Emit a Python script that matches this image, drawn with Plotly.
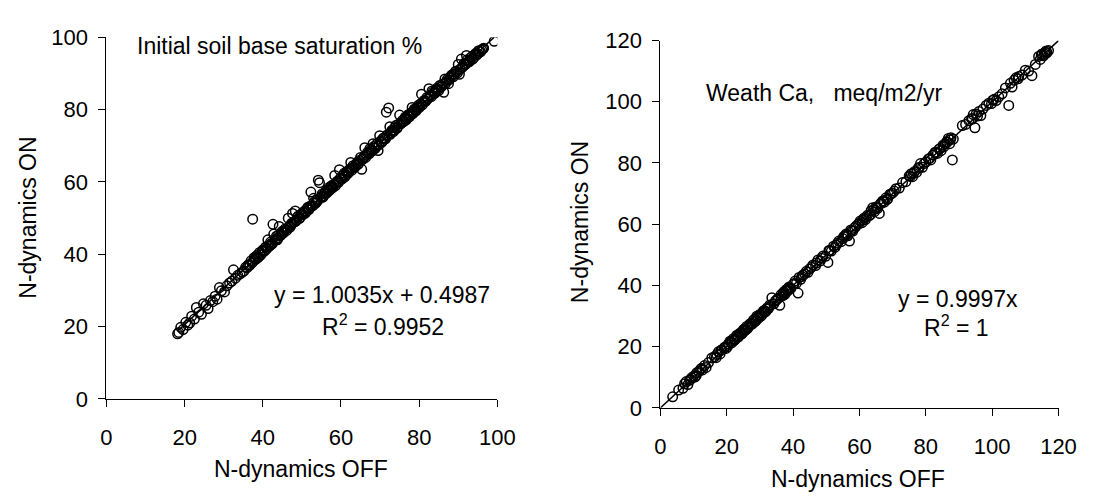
import plotly.graph_objects as go

# ---------------- data: left panel (Initial soil base saturation %) ----------------
bs_off = [18.2, 18.5, 19.0, 19.6, 20.3, 20.8, 21.3, 21.8, 22.5, 23.0, 23.6, 24.3, 24.8, 25.5, 26.0,
          26.6, 27.2, 27.8, 28.3, 28.9, 29.4, 30.2, 30.8, 31.5, 32.1, 32.5, 33.0, 33.6, 34.2, 34.8,
          35.2, 35.6, 36.0, 36.3, 36.7, 37.0, 37.4, 37.5, 37.8, 38.2, 38.5, 38.9, 39.2, 39.6, 40.0,
          40.3, 40.7, 41.0, 41.3, 41.7, 42.0, 42.4, 42.6, 42.8, 43.1, 43.5, 43.9, 44.2, 44.5, 44.9,
          45.3, 45.7, 46.1, 46.5, 46.8, 47.2, 47.6, 47.9, 48.3, 48.7, 49.1, 49.5, 49.9,
          50.3, 50.7, 51.1, 51.5, 51.9, 52.3, 52.6, 53.0, 53.4, 53.8, 54.2, 54.5, 54.8, 55.2, 55.6,
          56.0, 56.4, 56.8, 57.2, 57.6, 58.0, 58.4, 58.8, 59.2, 59.6, 60.0, 60.4, 60.8, 61.2, 61.6,
          62.0, 62.5, 62.9, 63.3, 63.8, 64.2, 64.6,
          65.0, 65.3, 65.7, 66.1, 66.5, 67.0, 67.4, 67.8, 68.2, 68.6, 69.0, 69.5, 69.9, 70.3, 70.7,
          71.2, 71.6, 71.9, 72.2, 72.5, 72.8, 73.2, 73.6, 74.0, 74.5, 75.0, 75.3, 75.7, 76.1, 76.5,
          76.9, 77.3, 77.8, 78.2, 78.6, 79.0, 79.4, 79.8,
          80.2, 80.6, 81.0, 81.5, 82.0, 82.5, 82.9, 83.3, 83.8, 84.3, 84.8, 85.3, 85.8, 86.3, 86.6,
          87.0, 87.5, 88.0, 88.5, 89.0, 89.6, 90.0, 90.3, 90.8, 91.2, 91.7, 92.1, 92.5, 93.0, 93.5,
          94.0, 94.5, 95.0, 95.4, 96.0, 96.5, 99.2]
bs_on = [18.0, 18.4, 19.8, 19.2, 21.2, 20.4, 21.0, 22.9, 22.1, 25.3, 24.0, 23.4, 26.3, 25.9, 25.0,
         27.2, 26.9, 28.4, 27.6, 30.8, 29.9, 29.6, 31.3, 32.1, 32.6, 35.7, 33.4, 34.2, 34.6, 35.1,
         35.4, 36.4, 36.3, 37.1, 37.0, 38.2, 49.7, 38.0, 39.1, 38.6, 39.7, 39.3, 40.5, 40.0, 41.2,
         40.8, 42.0, 41.5, 44.0, 42.3, 43.4, 42.9, 48.3, 45.6, 43.8, 45.0, 44.5, 47.7, 45.2, 46.3,
         45.9, 47.0, 46.6, 50.0, 47.8, 48.1, 51.3, 48.8, 52.0, 49.5, 50.6, 50.1, 51.2,
         51.0, 52.0, 51.8, 53.0, 52.6, 57.2, 53.4, 55.5, 54.1, 55.0, 60.5, 59.8, 55.6, 56.7, 56.2,
         57.3, 57.0, 58.4, 57.9, 59.0, 58.6, 61.8, 59.8, 60.1, 63.4, 61.2, 61.0, 62.4, 61.8, 63.0,
         62.7, 65.4, 63.8, 64.2, 64.6, 65.5, 65.2,
         66.8, 63.5, 66.5, 69.5, 67.4, 68.0, 69.2, 68.5, 70.6, 69.4, 70.1, 68.7, 72.8, 71.0, 71.9,
         72.0, 79.3, 72.8, 80.5, 75.3, 73.6, 74.4, 74.3, 75.6, 75.2, 78.5, 76.1, 77.0, 76.8, 78.0,
         77.6, 78.7, 78.6, 80.6, 79.4, 80.0, 80.1, 81.2,
         81.0, 84.3, 82.0, 82.2, 83.4, 85.8, 83.8, 85.2, 84.6, 85.5, 85.6, 86.7, 86.5, 84.8, 88.5,
         87.8, 87.2, 88.9, 89.7, 89.8, 90.5, 92.5, 89.8, 94.0, 92.0, 92.4, 95.0, 93.3, 93.6, 94.7,
         94.4, 95.6, 95.5, 96.2, 96.5, 97.0, 98.9]
bs_off_more = [36.2, 37.2, 38.0, 38.7, 39.4, 39.9, 40.5, 41.2, 41.9, 42.2, 43.3, 43.7, 44.0, 44.7, 45.1,
               45.5, 46.3, 47.0, 47.4, 48.1, 48.5, 48.9, 49.3, 49.7, 50.5, 50.9, 51.3, 51.7, 52.1, 52.8,
               53.2, 53.6, 54.0, 55.0, 55.4, 55.8, 56.2, 56.6, 57.0, 57.4, 57.8, 58.2, 58.6, 59.0, 59.4,
               59.8, 60.2, 60.6, 61.0, 61.4, 61.8, 62.2, 62.7, 63.1, 63.5, 64.0, 64.4, 64.8, 65.5, 65.9,
               66.3, 66.8, 67.2, 67.6, 68.0, 68.4, 68.8, 69.2, 69.7, 70.1, 70.5, 70.9, 71.4, 71.8, 72.6,
               73.0, 73.4, 73.8, 74.3, 74.7, 75.5, 75.9, 76.3, 76.7, 77.1, 77.5, 78.0, 78.4, 78.8, 79.2,
               79.6, 80.0, 80.4, 80.8, 81.2, 81.7, 82.2, 82.7, 83.1, 83.5, 84.0, 84.5, 85.0, 85.5, 86.0,
               86.8, 87.2, 87.7, 88.2, 88.7, 89.3, 89.8, 90.5, 91.0, 91.5, 91.9, 92.3, 92.8, 93.2, 93.7,
               94.2, 94.7, 95.2, 95.7, 96.3]
bs_on_more = [36.9, 37.6, 38.9, 39.0, 39.8, 40.9, 41.0, 42.2, 42.5, 43.0, 44.2, 44.0, 45.3, 45.5, 46.0,
              46.5, 47.2, 47.5, 48.6, 49.0, 49.2, 50.3, 49.9, 51.0, 51.5, 51.4, 52.5, 52.3, 53.3, 53.5,
              54.5, 54.2, 54.8, 56.0, 55.8, 57.0, 56.9, 57.8, 57.6, 58.6, 58.4, 59.3, 59.0, 60.2, 59.9,
              61.0, 60.8, 61.9, 61.4, 62.6, 62.4, 63.5, 63.2, 64.5, 64.0, 65.1, 64.9, 66.0, 66.2, 67.0,
              66.8, 68.2, 67.8, 68.9, 68.6, 69.8, 69.3, 70.6, 70.3, 71.3, 71.0, 72.2, 71.9, 73.0, 73.2,
              74.2, 73.9, 75.0, 74.8, 76.0, 76.4, 76.6, 77.5, 77.2, 78.3, 78.0, 79.2, 78.9, 80.2, 79.7,
              80.6, 80.6, 81.7, 81.3, 82.5, 82.4, 83.0, 83.9, 83.6, 84.8, 84.5, 85.9, 85.3, 86.2, 87.1,
              87.3, 88.4, 88.3, 89.4, 89.1, 90.6, 90.2, 91.2, 91.7, 92.8, 92.6, 93.8, 93.2, 94.4, 94.0,
              95.2, 95.1, 96.3, 96.0, 96.8]
bs_slope, bs_intercept = 1.0035, 0.4987
bs_fit_x = [18.2, 99.2]

# ---------------- data: right panel (Weath Ca, meq/m2/yr) ----------------
ca_off = [3.7, 6.8, 7.3, 7.8, 8.3, 8.8, 9.4, 10.0, 10.5, 11.0, 11.6, 12.1, 12.7, 13.3, 13.8,
          15.5, 16.3, 17.0, 17.5, 18.0, 18.6, 19.2, 19.8, 20.5, 21.0, 21.5, 22.0, 22.5, 23.0, 23.5,
          24.0, 24.5, 25.0, 25.5, 26.0, 26.5, 27.0, 27.5, 28.0, 28.5, 29.0, 29.5, 30.0, 30.5, 31.0,
          31.5, 32.0, 32.5, 33.0, 33.6, 34.2, 35.0, 36.0, 36.4, 36.8, 37.2, 37.6, 38.0, 38.4, 38.8,
          39.3, 40.0, 40.6, 41.0, 41.5, 41.8, 42.3, 43.0, 44.0, 45.0, 46.0, 46.8, 47.5, 48.2, 49.0,
          49.8, 50.5, 50.8, 51.5, 52.2, 53.0, 53.8, 54.5, 55.3, 56.0, 56.5, 57.0, 57.4, 58.0, 58.6,
          59.6, 60.2, 60.8, 61.3, 61.8, 62.4, 63.0, 63.5, 64.0, 64.5, 65.0, 65.5, 66.0, 66.5, 67.0,
          67.5, 68.0, 68.5, 69.2, 70.0, 71.0, 72.0, 73.0, 74.0, 75.0, 75.6, 76.0, 76.6, 77.2, 77.8,
          78.4, 79.0, 80.0, 80.8, 81.5, 82.2, 82.8, 83.5, 84.0, 84.6, 85.2, 85.8, 86.3, 86.8, 87.2,
          87.6, 88.0, 88.3, 91.0, 92.0, 93.0, 93.8, 94.3, 94.8, 95.2, 96.0, 96.6, 97.2, 98.2, 99.0,
          99.8, 100.6, 101.2, 102.0, 103.0, 104.0, 105.0, 105.5, 106.0, 106.6, 107.2, 108.0, 109.0,
          110.0, 111.0, 112.0, 113.0, 114.0, 114.5, 115.0, 115.5, 116.0, 116.5, 117.0]
ca_on = [3.6, 6.4, 7.9, 8.6, 7.6, 9.0, 9.8, 10.3, 10.1, 11.5, 11.9, 12.6, 12.4, 13.8, 13.2,
         16.3, 16.7, 17.4, 18.3, 17.6, 19.0, 19.6, 19.4, 20.9, 21.8, 21.2, 22.6, 22.3, 23.7, 23.2,
         24.4, 24.1, 25.5, 25.2, 26.6, 26.3, 27.4, 27.3, 28.6, 28.2, 29.9, 29.2, 30.5, 30.2, 31.6,
         31.3, 32.4, 32.3, 33.6, 36.0, 34.0, 35.3, 33.5, 37.0, 36.6, 37.9, 37.3, 38.7, 38.2, 39.5,
         39.0, 40.3, 41.4, 40.7, 37.5, 42.6, 42.0, 43.4, 44.6, 45.4, 46.7, 46.5, 48.3, 48.0, 49.6,
         49.5, 47.5, 51.4, 51.2, 52.8, 53.2, 54.5, 54.3, 56.0, 56.8, 56.2, 54.5, 58.1, 57.7, 58.9,
         60.0, 61.0, 60.5, 61.9, 61.5, 62.9, 62.8, 64.4, 65.4, 64.1, 65.6, 65.2, 63.5, 66.9, 67.6,
         67.2, 68.6, 68.3, 69.8, 70.2, 71.6, 71.8, 73.6, 73.9, 75.8, 76.5, 75.5, 77.2, 76.9, 78.5,
         79.8, 78.6, 80.3, 81.3, 81.0, 82.6, 83.5, 83.1, 84.5, 84.0, 85.8, 86.2, 87.0, 88.0, 86.3,
         88.2, 81.0, 87.8, 92.2, 92.6, 93.8, 94.5, 95.8, 91.5, 96.0, 96.8, 95.5, 97.6, 98.8, 99.5,
         99.4, 100.8, 100.4, 101.6, 102.6, 104.5, 98.8, 106.0, 104.8, 107.0, 107.8, 108.2, 108.7,
         110.3, 110.0, 108.5, 112.2, 114.8, 113.8, 115.6, 115.0, 116.2, 116.0, 116.7]
ca_off_more = [5.5, 9.1, 10.8, 12.4, 14.5, 16.8, 18.3, 19.5, 20.2, 21.2, 22.2, 22.8, 23.3, 23.8, 24.3,
               24.8, 25.3, 25.8, 26.3, 26.8, 27.3, 27.8, 28.3, 28.8, 29.3, 29.8, 30.3, 30.8, 31.3, 31.8,
               32.3, 32.8, 34.6, 35.5, 37.0, 37.4, 37.8, 38.2, 38.6, 39.0, 40.3, 42.6, 43.5, 44.5, 45.5,
               47.0, 48.6, 51.0, 52.6, 53.4, 55.0, 55.7, 56.3, 57.7, 59.0, 60.0, 61.0, 62.0, 63.3, 64.3,
               65.3, 66.3, 67.3, 68.3, 69.5, 70.5, 75.3, 76.3, 78.0, 79.5, 81.2, 83.0, 84.3, 85.5, 86.5,
               87.4, 94.0, 95.6, 100.2, 107.8, 114.8, 115.8, 116.3]
ca_on_more = [5.8, 9.3, 10.6, 12.9, 14.8, 16.4, 18.8, 19.9, 20.0, 21.5, 22.0, 23.2, 23.0, 24.2, 24.6,
              24.5, 25.8, 25.6, 26.0, 27.1, 27.6, 27.5, 28.8, 28.5, 29.7, 30.2, 30.0, 31.0, 31.8, 31.5,
              32.7, 33.0, 34.8, 35.8, 37.4, 37.0, 38.1, 38.6, 38.9, 39.3, 40.6, 42.9, 43.8, 44.3, 45.9,
              47.3, 48.9, 51.3, 52.4, 53.8, 55.3, 56.1, 56.6, 57.9, 59.4, 60.3, 61.3, 62.3, 63.1, 64.7,
              65.5, 66.6, 67.6, 68.0, 69.8, 70.8, 75.6, 76.6, 78.3, 79.8, 81.5, 83.3, 84.7, 85.3, 86.8,
              87.6, 94.3, 95.3, 100.5, 107.5, 115.2, 115.6, 116.6]
ca_slope = 0.9997
ca_fit_x = [0, 120]

FONT = "Liberation Sans, Arial, sans-serif"
TEXT_SIZE = 23
TICK_SIZE = 22
marker = dict(symbol="circle-open", size=9.5, color="black", line=dict(width=1.5, color="black"))

fig = go.Figure()
fig.add_trace(go.Scatter(x=bs_off + bs_off_more, y=bs_on + bs_on_more, mode="markers", marker=marker,
                         xaxis="x", yaxis="y", showlegend=False))
fig.add_trace(go.Scatter(x=bs_fit_x, y=[bs_slope * v + bs_intercept for v in bs_fit_x],
                         mode="lines", line=dict(color="black", width=1.5),
                         xaxis="x", yaxis="y", showlegend=False))
fig.add_trace(go.Scatter(x=ca_off + ca_off_more, y=ca_on + ca_on_more, mode="markers", marker=marker,
                         xaxis="x2", yaxis="y2", showlegend=False))
fig.add_trace(go.Scatter(x=ca_fit_x, y=[ca_slope * v for v in ca_fit_x],
                         mode="lines", line=dict(color="black", width=1.5),
                         xaxis="x2", yaxis="y2", showlegend=False))

axis_common = dict(showgrid=False, zeroline=False, showline=True, linecolor="black", linewidth=1,
                   ticks="outside", ticklen=7, tickcolor="black", tickwidth=1,
                   tickfont=dict(family=FONT, size=TICK_SIZE, color="black"), mirror=False)

fig.update_layout(
    width=1099, height=500,
    margin=dict(l=0, r=0, t=0, b=0),
    paper_bgcolor="white", plot_bgcolor="white",
    font=dict(family=FONT, color="black"),
    xaxis=dict(domain=[102.7 / 1099, 502.3 / 1099], range=[0, 100], dtick=20, anchor="y",
               ticklabelstandoff=12, **axis_common),
    yaxis=dict(domain=[(500 - 407.3) / 500, (500 - 26.7) / 500], range=[0, 100], dtick=20, anchor="x",
               ticklabelstandoff=6, **axis_common),
    xaxis2=dict(domain=[669 / 1099, 1076 / 1099], range=[0, 120], dtick=20, anchor="y2",
                ticklabelstandoff=12, **axis_common),
    yaxis2=dict(domain=[(500 - 416.7) / 500, (500 - 30) / 500], range=[0, 120], dtick=20, anchor="x2",
                ticklabelstandoff=6, **axis_common),
)

def ann(text, x, y, xanchor="center", size=TEXT_SIZE, angle=0):
    fig.add_annotation(text=text, x=x / 1099, y=1 - y / 500, xref="paper", yref="paper",
                       xanchor=xanchor, yanchor="middle", showarrow=False, textangle=angle,
                       font=dict(family=FONT, size=size, color="black"))

# axis titles
ann("N-dynamics OFF", 302, 481)
ann("N-dynamics ON", 23, 216, angle=-90)
ann("N-dynamics OFF", 871, 492)
ann("N-dynamics ON", 587, 221, angle=-90)
# in-plot labels
ann("Initial soil base saturation %", 131.7, 36, xanchor="left")
ann("y = 1.0035x + 0.4987", 384, 298)
ann("R<sup>2</sup> = 0.9952", 385, 329)
ann("Weath Ca,&nbsp;&nbsp; meq/m2/yr", 714, 85, xanchor="left")
ann("y = 0.9997x", 973, 302)
ann("R<sup>2</sup> = 1", 972, 331)

fig.write_html("out.html")
